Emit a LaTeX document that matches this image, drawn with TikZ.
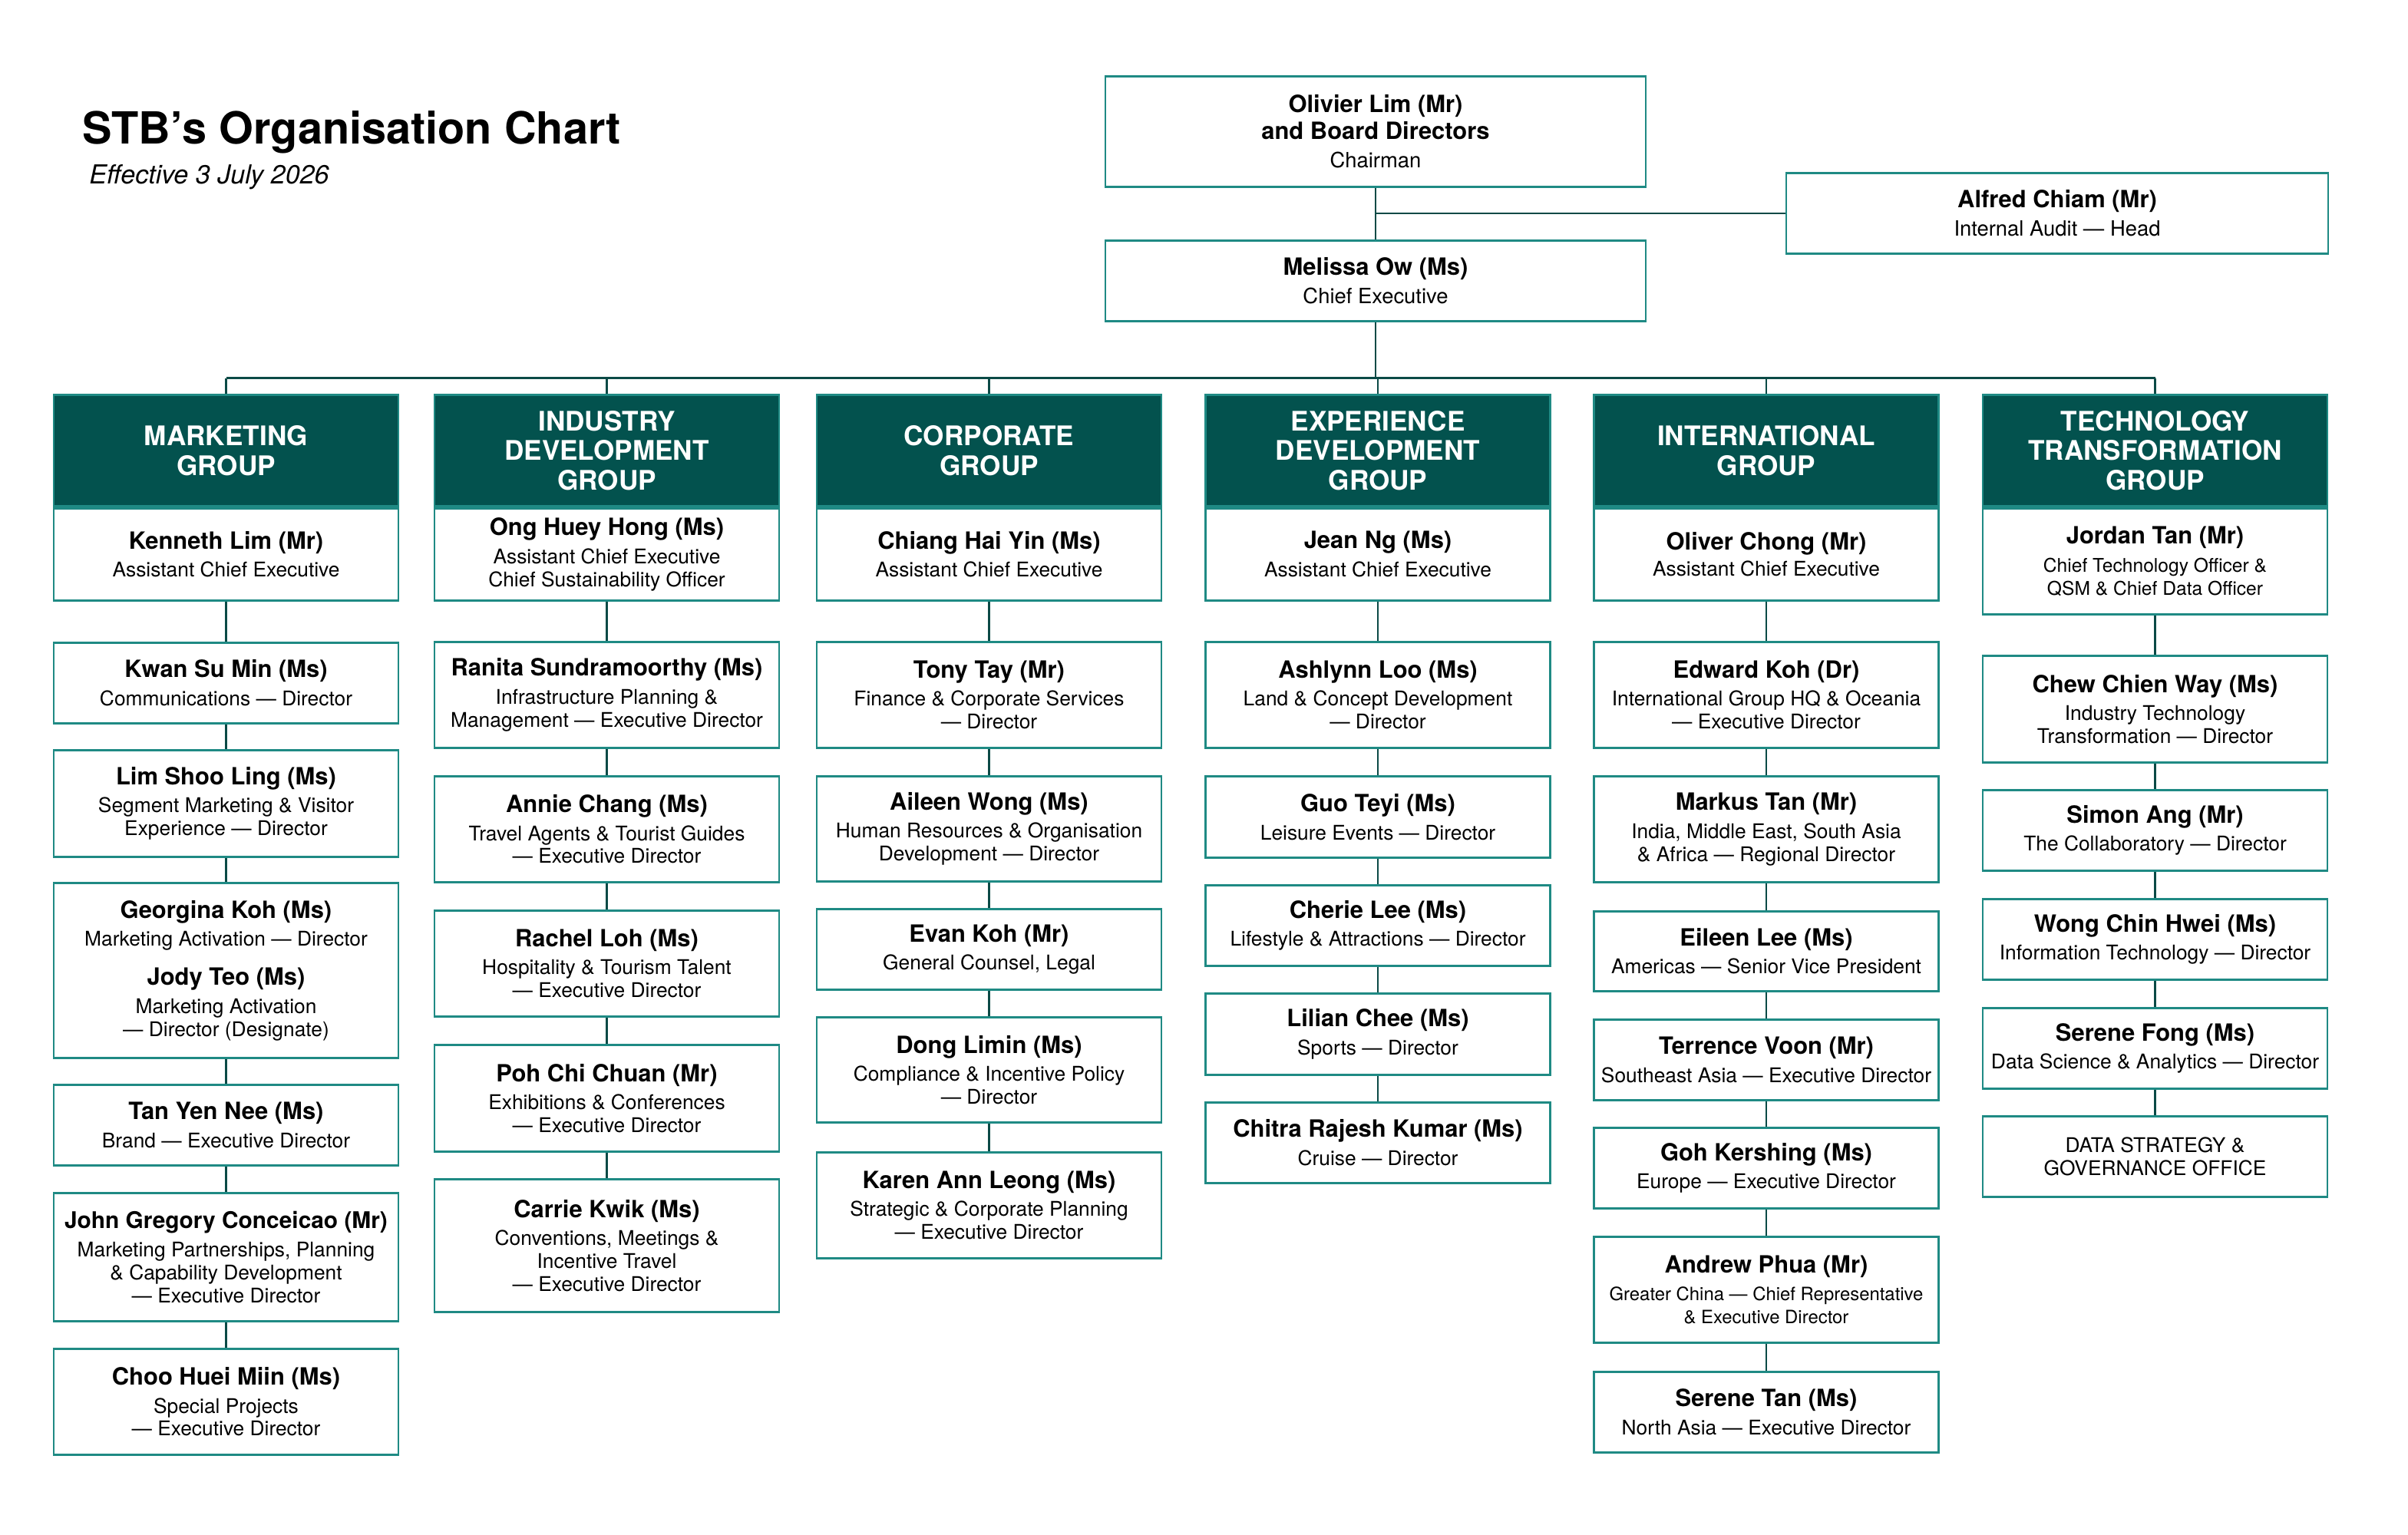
\documentclass[tikz,border=0pt]{standalone}
\usepackage{fontspec}
\setmainfont{TeX Gyre Heros}
\usepackage{tikz}
\definecolor{headfill}{HTML}{03524E}
\definecolor{boxline}{HTML}{1F8A84}
\definecolor{linkcol}{HTML}{0B4A46}
\newcommand{\pname}[1]{{\fontsize{8.8}{10}\selectfont\bfseries #1}}
\tikzset{
  grouphead/.style={draw=boxline, fill=headfill, text=white, minimum width=4.49cm,
    minimum height=1.45cm, anchor=north, align=center, inner sep=1pt,
    font=\fontsize{10}{11}\selectfont\bfseries},
  staffbox/.style={draw=boxline, fill=white, minimum width=4.49cm, anchor=north,
    align=center, inner sep=1pt, font=\fontsize{7.5}{8.5}\selectfont},
  topbox/.style={draw=boxline, fill=white, anchor=north, align=center, inner sep=1pt,
    font=\fontsize{7.8}{9.9}\selectfont},
  link/.style={draw=linkcol, line width=0.8pt}
}
\begin{document}
\begin{tikzpicture}[line width=0.8pt]
\useasboundingbox (0,0) rectangle (31.37,-20);
% title
\node[anchor=base west, inner sep=0pt, font=\fontsize{16.4}{18}\selectfont\bfseries] (title) at (1.06,-1.87) {STB’s Organisation Chart};
\node[anchor=base west, inner sep=0pt, font=\fontsize{9.7}{11}\selectfont\itshape] (date) at (1.15,-2.39) {Effective 3 July 2026};
% board, chief executive, audit
\node[topbox, minimum width=7.04cm, minimum height=1.44cm] (chair) at (17.92,-0.98)
  {\pname{Olivier Lim (Mr)}\\ \pname{and Board Directors}\\[0.6pt] Chairman};
\node[topbox, minimum width=7.04cm, minimum height=1.05cm] (ceo) at (17.92,-3.12)
  {\pname{Melissa Ow (Ms)}\\[0.6pt] Chief Executive};
\node[topbox, minimum width=7.06cm, minimum height=1.05cm] (audit) at (26.80,-2.24)
  {\pname{Alfred Chiam (Mr)}\\[0.6pt] Internal Audit — Head};
% marketing group
\begin{scope}[xshift=2.945cm]
\node[grouphead] (mkt) at (0,-5.13) {MARKETING\\GROUP};
\node[staffbox, minimum height=1.2cm] (mktlead) at (mkt.south) {\pname{Kenneth Lim (Mr)}\\[1.9pt] Assistant Chief Executive};
\node[staffbox, minimum height=1.05cm] (kwan) at (0,-8.36) {\pname{Kwan Su Min (Ms)}\\[1.9pt] Communications — Director};
\node[staffbox, minimum height=1.39cm] (limsl) at (0,-9.76) {\pname{Lim Shoo Ling (Ms)}\\[1.9pt] Segment Marketing \& Visitor\\ Experience — Director};
\node[staffbox, minimum height=2.28cm] (georgina) at (0,-11.49) {\pname{Georgina Koh (Ms)}\\[1.9pt] Marketing Activation — Director\\[6pt] \pname{Jody Teo (Ms)}\\[1.9pt] Marketing Activation\\ — Director (Designate)};
\node[staffbox, minimum height=1.05cm] (tanyn) at (0,-14.12) {\pname{Tan Yen Nee (Ms)}\\[1.9pt] Brand — Executive Director};
\node[staffbox, minimum height=1.67cm] (john) at (0,-15.53) {{\fontsize{8.5}{10}\selectfont\bfseries John Gregory Conceicao (Mr)}\\[1.9pt] Marketing Partnerships, Planning\\ \& Capability Development\\ — Executive Director};
\node[staffbox, minimum height=1.38cm] (choo) at (0,-17.56) {\pname{Choo Huei Miin (Ms)}\\[1.9pt] Special Projects\\ — Executive Director};
\end{scope}
% industry development group
\begin{scope}[xshift=7.905cm]
\node[grouphead] (ind) at (0,-5.13) {INDUSTRY\\DEVELOPMENT\\GROUP};
\node[staffbox, minimum height=1.2cm] (indlead) at (ind.south) {\pname{Ong Huey Hong (Ms)}\\[1.9pt] Assistant Chief Executive\\ Chief Sustainability Officer};
\node[staffbox, minimum height=1.38cm] (ranita) at (0,-8.35) {\pname{Ranita Sundramoorthy (Ms)}\\[1.9pt] Infrastructure Planning \&\\ Management — Executive Director};
\node[staffbox, minimum height=1.38cm] (annie) at (0,-10.10) {\pname{Annie Chang (Ms)}\\[1.9pt] Travel Agents \& Tourist Guides\\ — Executive Director};
\node[staffbox, minimum height=1.38cm] (rachel) at (0,-11.85) {\pname{Rachel Loh (Ms)}\\[1.9pt] Hospitality \& Tourism Talent\\ — Executive Director};
\node[staffbox, minimum height=1.39cm] (poh) at (0,-13.60) {\pname{Poh Chi Chuan (Mr)}\\[1.9pt] Exhibitions \& Conferences\\ — Executive Director};
\node[staffbox, minimum height=1.73cm] (carrie) at (0,-15.35) {\pname{Carrie Kwik (Ms)}\\[1.9pt] Conventions, Meetings \&\\ Incentive Travel\\ — Executive Director};
\end{scope}
% corporate group
\begin{scope}[xshift=12.885cm]
\node[grouphead] (corp) at (0,-5.13) {CORPORATE\\GROUP};
\node[staffbox, minimum height=1.2cm] (corplead) at (corp.south) {\pname{Chiang Hai Yin (Ms)}\\[1.9pt] Assistant Chief Executive};
\node[staffbox, minimum height=1.38cm] (tony) at (0,-8.35) {\pname{Tony Tay (Mr)}\\[1.9pt] Finance \& Corporate Services\\ — Director};
\node[staffbox, minimum height=1.37cm] (aileen) at (0,-10.10) {\pname{Aileen Wong (Ms)}\\[1.9pt] Human Resources \& Organisation\\ Development — Director};
\node[staffbox, minimum height=1.05cm] (evan) at (0,-11.83) {\pname{Evan Koh (Mr)}\\[1.9pt] General Counsel, Legal};
\node[staffbox, minimum height=1.37cm] (dong) at (0,-13.24) {\pname{Dong Limin (Ms)}\\[1.9pt] Compliance \& Incentive Policy\\ — Director};
\node[staffbox, minimum height=1.38cm] (karen) at (0,-15.00) {\pname{Karen Ann Leong (Ms)}\\[1.9pt] Strategic \& Corporate Planning\\ — Executive Director};
\end{scope}
% experience development group
\begin{scope}[xshift=17.95cm]
\node[grouphead] (exp) at (0,-5.13) {EXPERIENCE\\DEVELOPMENT\\GROUP};
\node[staffbox, minimum height=1.2cm] (explead) at (exp.south) {\pname{Jean Ng (Ms)}\\[1.9pt] Assistant Chief Executive};
\node[staffbox, minimum height=1.38cm] (ashlynn) at (0,-8.35) {\pname{Ashlynn Loo (Ms)}\\[1.9pt] Land \& Concept Development\\ — Director};
\node[staffbox, minimum height=1.06cm] (guo) at (0,-10.10) {\pname{Guo Teyi (Ms)}\\[1.9pt] Leisure Events — Director};
\node[staffbox, minimum height=1.05cm] (cherie) at (0,-11.52) {\pname{Cherie Lee (Ms)}\\[1.9pt] Lifestyle \& Attractions — Director};
\node[staffbox, minimum height=1.06cm] (lilian) at (0,-12.93) {\pname{Lilian Chee (Ms)}\\[1.9pt] Sports — Director};
\node[staffbox, minimum height=1.05cm] (chitra) at (0,-14.35) {\pname{Chitra Rajesh Kumar (Ms)}\\[1.9pt] Cruise — Director};
\end{scope}
% international group
\begin{scope}[xshift=23.01cm]
\node[grouphead] (intl) at (0,-5.13) {INTERNATIONAL\\GROUP};
\node[staffbox, minimum height=1.2cm] (intllead) at (intl.south) {\pname{Oliver Chong (Mr)}\\[1.2pt] Assistant Chief Executive};
\node[staffbox, minimum height=1.38cm] (edward) at (0,-8.35) {\pname{Edward Koh (Dr)}\\[1.9pt] International Group HQ \& Oceania\\ — Executive Director};
\node[staffbox, minimum height=1.38cm] (markus) at (0,-10.10) {\pname{Markus Tan (Mr)}\\[1.9pt] India, Middle East, South Asia\\ \& Africa — Regional Director};
\node[staffbox, minimum height=1.04cm] (eileen) at (0,-11.86) {\pname{Eileen Lee (Ms)}\\[1.9pt] Americas — Senior Vice President};
\node[staffbox, minimum height=1.05cm] (terrence) at (0,-13.27) {\pname{Terrence Voon (Mr)}\\[1.9pt] Southeast Asia — Executive Director};
\node[staffbox, minimum height=1.05cm] (goh) at (0,-14.68) {\pname{Goh Kershing (Ms)}\\[1.9pt] Europe — Executive Director};
\node[staffbox, minimum height=1.38cm] (andrew) at (0,-16.10) {\pname{Andrew Phua (Mr)}\\[1.9pt] {\fontsize{6.8}{8}\selectfont Greater China — Chief Representative}\\ {\fontsize{6.8}{8}\selectfont\& Executive Director}};
\node[staffbox, minimum height=1.05cm] (serenet) at (0,-17.86) {\pname{Serene Tan (Ms)}\\[1.9pt] North Asia — Executive Director};
\end{scope}
% technology transformation group
\begin{scope}[xshift=28.075cm]
\node[grouphead] (tech) at (0,-5.13) {TECHNOLOGY\\TRANSFORMATION\\GROUP};
\node[staffbox, minimum height=1.38cm] (techlead) at (tech.south) {\pname{Jordan Tan (Mr)}\\[1.9pt] {\fontsize{7}{8}\selectfont Chief Technology Officer \&}\\ {\fontsize{7}{8}\selectfont QSM \& Chief Data Officer}};
\node[staffbox, minimum height=1.39cm] (chew) at (0,-8.53) {\pname{Chew Chien Way (Ms)}\\[1.9pt] Industry Technology\\ Transformation — Director};
\node[staffbox, minimum height=1.05cm] (simon) at (0,-10.28) {\pname{Simon Ang (Mr)}\\[1.9pt] The Collaboratory — Director};
\node[staffbox, minimum height=1.05cm] (wong) at (0,-11.70) {\pname{Wong Chin Hwei (Ms)}\\[1.9pt] Information Technology — Director};
\node[staffbox, minimum height=1.05cm] (serenef) at (0,-13.12) {\pname{Serene Fong (Ms)}\\[1.9pt] Data Science \& Analytics — Director};
\node[staffbox, minimum height=1.05cm] (dsgo) at (0,-14.53) {DATA STRATEGY \&\\ GOVERNANCE OFFICE};
\end{scope}
% top links
\draw[link] (chair.south) -- (ceo.north);
\draw[link] (chair.south |- audit.west) -- (audit.west);
\draw[link] (ceo.south) -- ++(0,-0.73) coordinate (bus);
\draw[link] (mkt.north |- bus) -- (tech.north |- bus);
\draw[link] (mkt.north) -- (mkt.north |- bus) (ind.north) -- (ind.north |- bus)
  (corp.north) -- (corp.north |- bus) (exp.north) -- (exp.north |- bus)
  (intl.north) -- (intl.north |- bus) (tech.north) -- (tech.north |- bus);
% column links
\draw[link] (mktlead.south) -- (kwan.north) (kwan.south) -- (limsl.north)
  (limsl.south) -- (georgina.north) (georgina.south) -- (tanyn.north)
  (tanyn.south) -- (john.north) (john.south) -- (choo.north);
\draw[link] (indlead.south) -- (ranita.north) (ranita.south) -- (annie.north)
  (annie.south) -- (rachel.north) (rachel.south) -- (poh.north) (poh.south) -- (carrie.north);
\draw[link] (corplead.south) -- (tony.north) (tony.south) -- (aileen.north)
  (aileen.south) -- (evan.north) (evan.south) -- (dong.north) (dong.south) -- (karen.north);
\draw[link] (explead.south) -- (ashlynn.north) (ashlynn.south) -- (guo.north)
  (guo.south) -- (cherie.north) (cherie.south) -- (lilian.north) (lilian.south) -- (chitra.north);
\draw[link] (intllead.south) -- (edward.north) (edward.south) -- (markus.north)
  (markus.south) -- (eileen.north) (eileen.south) -- (terrence.north)
  (terrence.south) -- (goh.north) (goh.south) -- (andrew.north) (andrew.south) -- (serenet.north);
\draw[link] (techlead.south) -- (chew.north) (chew.south) -- (simon.north)
  (simon.south) -- (wong.north) (wong.south) -- (serenef.north) (serenef.south) -- (dsgo.north);
\end{tikzpicture}
\end{document}
